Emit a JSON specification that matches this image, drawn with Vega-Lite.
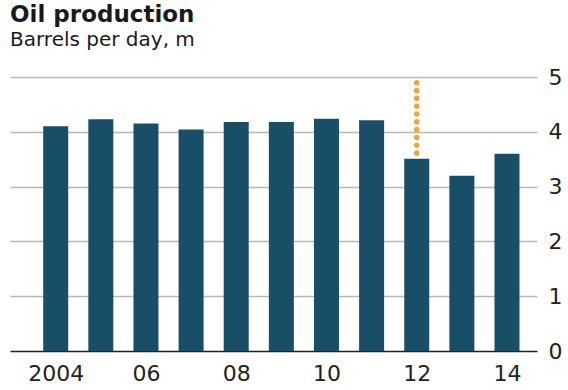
{
  "$schema": "https://vega.github.io/schema/vega-lite/v6.json",
  "autosize": "none",
  "width": 527,
  "height": 274,
  "padding": {"left": 10, "top": 77, "right": 31, "bottom": 39},
  "background": "white",
  "title": {
    "text": "Oil production",
    "subtitle": "Barrels per day, m",
    "anchor": "start",
    "frame": "group",
    "offset": 16,
    "font": "DejaVu Sans",
    "fontSize": 23,
    "fontWeight": "bold",
    "color": "#1a1a1a",
    "subtitleFont": "DejaVu Sans",
    "subtitleFontSize": 20,
    "subtitleColor": "#1a1a1a",
    "subtitlePadding": 3
  },
  "datasets": {
    "prod": [
      {"year": 2004, "value": 4.10},
      {"year": 2005, "value": 4.23},
      {"year": 2006, "value": 4.15},
      {"year": 2007, "value": 4.04},
      {"year": 2008, "value": 4.18},
      {"year": 2009, "value": 4.18},
      {"year": 2010, "value": 4.24},
      {"year": 2011, "value": 4.21},
      {"year": 2012, "value": 3.51},
      {"year": 2013, "value": 3.20},
      {"year": 2014, "value": 3.60}
    ],
    "gap": [
      {"year": 2012, "top": 4.895, "bottom": 3.6}
    ]
  },
  "layer": [
    {
      "data": {"name": "prod"},
      "mark": {"type": "bar", "size": 25, "color": "#184e68"},
      "encoding": {
        "x": {
          "field": "year",
          "type": "quantitative",
          "scale": {"domain": [2003.098, 2014.554], "nice": false, "zero": false},
          "axis": {
            "title": null,
            "values": [2004, 2006, 2008, 2010, 2012, 2014],
            "labelExpr": "datum.value == 2004 ? '2004' : slice(toString(datum.value), 2)",
            "grid": false,
            "domain": false,
            "ticks": false,
            "labelFont": "DejaVu Sans",
            "labelFontSize": 22,
            "labelColor": "#222222",
            "labelPadding": 12,
            "labelFlush": false
          }
        },
        "y": {
          "field": "value",
          "type": "quantitative",
          "scale": {"domain": [0, 5], "nice": false},
          "axis": {
            "title": null,
            "orient": "right",
            "values": [0, 1, 2, 3, 4, 5],
            "grid": true,
            "gridColor": {"condition": {"test": "datum.value === 0", "value": "#222222"}, "value": "#b8b8b8"},
            "gridWidth": 1.4,
            "domain": false,
            "ticks": false,
            "labelFont": "DejaVu Sans",
            "labelFontSize": 22,
            "labelColor": "#222222",
            "labelPadding": 11,
            "labelBaseline": "middle"
          }
        }
      }
    },
    {
      "data": {"name": "gap"},
      "mark": {"type": "rule", "color": "#f2a33a", "strokeWidth": 5.5, "strokeCap": "round", "strokeDash": [0.1, 7.71]},
      "encoding": {
        "x": {"field": "year", "type": "quantitative"},
        "y": {"field": "top", "type": "quantitative"},
        "y2": {"field": "bottom"}
      }
    }
  ],
  "config": {
    "view": {"stroke": null}
  }
}
